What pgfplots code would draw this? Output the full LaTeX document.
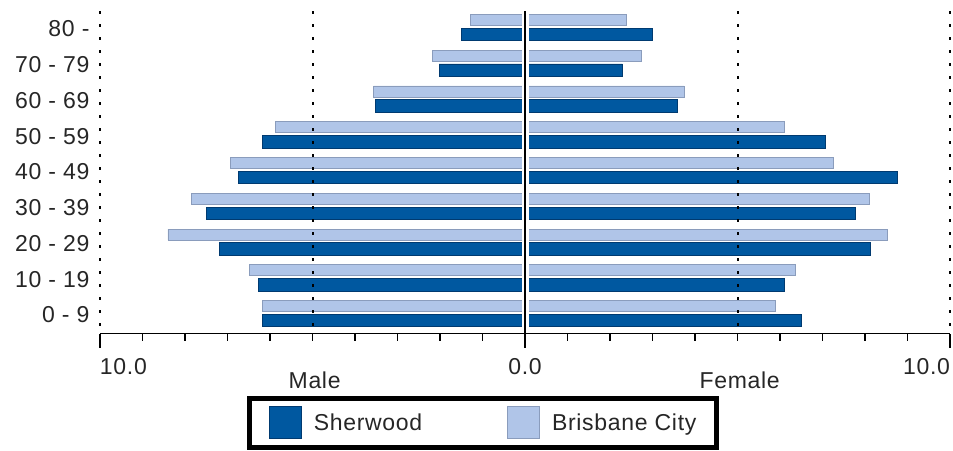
\documentclass[border=0pt]{standalone}
\usepackage{fontspec}
\setmainfont{Liberation Sans}[LetterSpace=3]
\usepackage{pgfplots}
\usepackage{pgfplotstable}
\pgfplotsset{compat=1.18}

\definecolor{sherwood}{RGB}{0,88,160}
\definecolor{sherwoodedge}{RGB}{0,58,112}
\definecolor{brisbane}{RGB}{176,197,232}
\definecolor{brisbaneedge}{RGB}{138,156,188}

\newcommand{\lblfont}{\fontsize{23}{27}\selectfont}

% age group index, male share (negative), female share
\pgfplotstableread{
y  male   female
0  -6.18  6.51
1  -6.28  6.11
2  -7.18  8.12
3  -7.49  7.77
4  -6.74  8.77
5  -6.18  7.06
6  -3.52  3.59
7  -2.02  2.29
8  -1.50  3.00
}\sherwood

\pgfplotstableread{
y  male   female
0  -6.18  5.90
1  -6.48  6.36
2  -8.40  8.52
3  -7.84  8.11
4  -6.94  7.26
5  -5.88  6.11
6  -3.56  3.74
7  -2.18  2.74
8  -1.28  2.39
}\brisbane

\pgfplotsset{
  swatch/.style={legend image code/.code={
    \draw[##1, line width=0.8pt] (0pt,-16pt) rectangle (32pt,16pt);}},
}
\tikzset{dotgrid/.style={black, line width=2pt, dash pattern=on 3pt off 10pt}}

\begin{document}
\begin{tikzpicture}
\begin{axis}[
  scale only axis,
  width=850pt, height=322.4pt,
  xmin=-10, xmax=10, ymin=-0.517, ymax=8.5,
  clip=false,
  xbar,
  axis lines*=left,
  y axis line style={draw=none},
  x axis line style={line width=1.6pt},
  xtick={-10,0,10},
  xticklabels={\rlap{10.0},0.0,\llap{10.0}},
  minor x tick num=9,
  tick align=outside,
  x tick style={black, line width=1.6pt},
  major tick length=14pt, minor tick length=7pt,
  xticklabel style={yshift=-7pt},
  ytick={0,...,8},
  yticklabels={0 - 9,10 - 19,20 - 29,30 - 39,40 - 49,50 - 59,60 - 69,70 - 79,80 -},
  y tick style={draw=none},
  yticklabel style={xshift=7pt},
  tick label style={font=\lblfont, text=black!85},
  legend columns=2,
  legend style={at={(0.1724,-0.193)}, anchor=north west,
    draw=black, line width=5pt, inner xsep=20pt, inner ysep=8pt,
    font=\lblfont, text=black!85,
    nodes={inner sep=0pt},
    /tikz/every odd column/.append style={column sep=12pt},
    /tikz/every even column/.append style={column sep=85pt}},
]
\addplot[swatch, fill=sherwood, draw=sherwoodedge, line width=0.8pt,
  bar width=12.5pt, bar shift=-5.5pt] table[x=male, y=y] {\sherwood};
\addlegendentry{Sherwood}
\addplot[swatch, fill=brisbane, draw=brisbaneedge, line width=0.8pt,
  bar width=11pt, bar shift=9pt] table[x=male, y=y] {\brisbane};
\addlegendentry{Brisbane City}
\addplot[forget plot, fill=sherwood, draw=sherwoodedge, line width=0.8pt,
  bar width=12.5pt, bar shift=-5.5pt] table[x=female, y=y] {\sherwood};
\addplot[forget plot, fill=brisbane, draw=brisbaneedge, line width=0.8pt,
  bar width=11pt, bar shift=9pt] table[x=female, y=y] {\brisbane};

% gap round the centre line, then the line itself
\draw[white, line width=7pt] (axis cs:0,-0.45) -- (axis cs:0,8.5);
\draw[black, line width=2pt] (axis cs:0,8.5) -- (axis cs:0,-0.517);
% dotted grid
\draw[dotgrid] (axis cs:-10,8.5) -- (axis cs:-10,-0.517);
\draw[dotgrid] (axis cs:-5,8.5) -- (axis cs:-5,-0.517);
\draw[dotgrid] (axis cs:5,8.5) -- (axis cs:5,-0.517);
\draw[dotgrid] (axis cs:10,8.5) -- (axis cs:10,-0.517);
\node[font=\lblfont, text=black!85] at (axis cs:-4.95,-0.517) [yshift=-46.5pt] {Male};
\node[font=\lblfont, text=black!85] at (axis cs:5.05,-0.517) [yshift=-46.5pt] {Female};
\end{axis}
\pgfresetboundingbox
\useasboundingbox (-100pt,-116.5pt) rectangle (853pt,333.5pt);
\end{tikzpicture}
\end{document}
